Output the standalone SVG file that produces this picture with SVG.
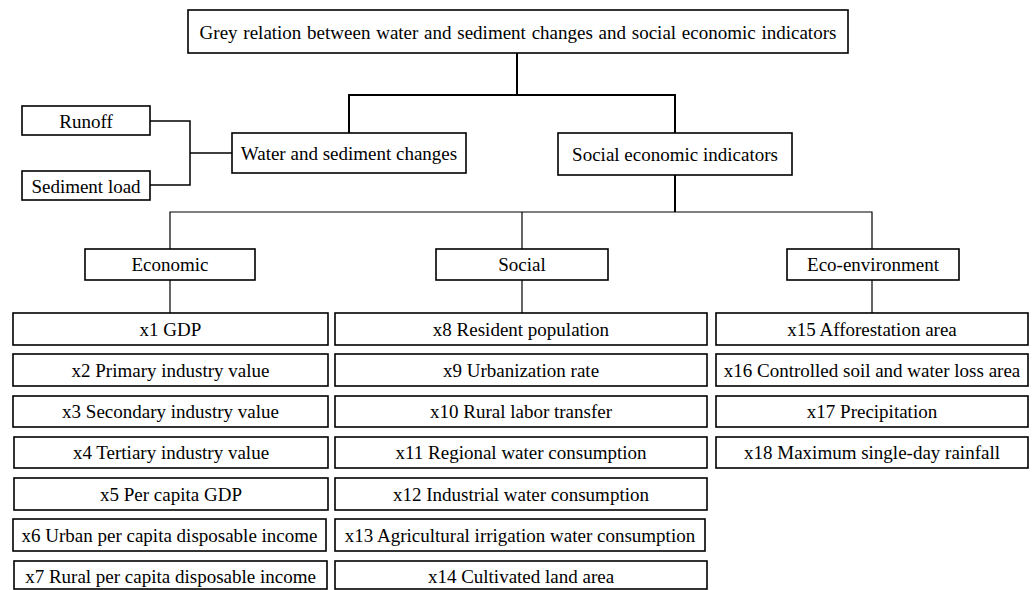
<svg xmlns="http://www.w3.org/2000/svg" width="1033" height="590" viewBox="0 0 1033 590" font-family="'Liberation Serif', Tinos, 'Times New Roman', 'DejaVu Serif', serif">
<style>
rect{fill:#fff;stroke:#000;stroke-width:1.6}
text{font-family:'Liberation Serif',Tinos,'Times New Roman','DejaVu Serif',serif;font-size:19px;fill:#000;text-anchor:middle;dominant-baseline:central}
.c{fill:none;stroke:#000;stroke-width:1.5}
.t{fill:none;stroke:#000;stroke-width:2}
.n{fill:none;stroke:#000;stroke-width:1.2}
</style>
<rect width="1033" height="590" style="fill:#fff;stroke:none"/>
<g id="connectors">
<path class="t" d="M517 53V95M349 133V95H675V133"/>
<path class="c" d="M150 121H190V185H150M190 153H232"/>
<path class="t" d="M675 175V212"/>
<path class="n" d="M170 249V212H872V249M522 212V249"/>
<path class="n" d="M170 279V313M522 279V313M872 279V313"/>
</g>
<g id="title"><rect x="188" y="10" width="660" height="43"/><text x="518" y="32" word-spacing="1">Grey relation between water and sediment changes and social economic indicators</text></g>
<g id="runoff"><rect x="22" y="106" width="128" height="29"/><text x="86" y="121">Runoff</text></g>
<g id="sediment"><rect x="22" y="171" width="128" height="29"/><text x="86" y="186">Sediment load</text></g>
<g id="water"><rect x="232" y="133" width="234" height="40"/><text x="349" y="153">Water and sediment changes</text></g>
<g id="socioeco"><rect x="558" y="133" width="234" height="42"/><text x="675" y="154">Social economic indicators</text></g>
<g id="economic"><rect x="85" y="249" width="170" height="31"/><text x="170" y="264.5">Economic</text></g>
<g id="social"><rect x="436" y="249" width="172" height="31"/><text x="522" y="264.5">Social</text></g>
<g id="ecoenv"><rect x="787" y="249" width="172" height="31"/><text x="873" y="264.5">Eco-environment</text></g>
<g id="x1"><rect x="13" y="313" width="315" height="32"/><text x="170.5" y="329">x1 GDP</text></g>
<g id="x2"><rect x="13" y="354" width="315" height="32"/><text x="170.5" y="370">x2 Primary industry value</text></g>
<g id="x3"><rect x="13" y="396" width="315" height="31"/><text x="170.5" y="411.5">x3 Secondary industry value</text></g>
<g id="x4"><rect x="14" y="437" width="314" height="31"/><text x="171" y="452.5">x4 Tertiary industry value</text></g>
<g id="x5"><rect x="14" y="478" width="314" height="32"/><text x="171" y="494">x5 Per capita GDP</text></g>
<g id="x6"><rect x="13" y="519" width="313" height="32"/><text x="169.5" y="535">x6 Urban per capita disposable income</text></g>
<g id="x7"><rect x="14" y="561" width="313" height="28"/><text x="170.5" y="576">x7 Rural per capita disposable income</text></g>
<g id="x8"><rect x="335" y="313" width="372" height="32"/><text x="521" y="329">x8 Resident population</text></g>
<g id="x9"><rect x="335" y="354" width="372" height="32"/><text x="521" y="370">x9 Urbanization rate</text></g>
<g id="x10"><rect x="335" y="396" width="372" height="31"/><text x="521" y="411.5">x10 Rural labor transfer</text></g>
<g id="x11"><rect x="335" y="437" width="372" height="31"/><text x="521" y="452.5">x11 Regional water consumption</text></g>
<g id="x12"><rect x="335" y="478" width="372" height="32"/><text x="521" y="494">x12 Industrial water consumption</text></g>
<g id="x13"><rect x="335" y="519" width="370" height="32"/><text x="520" y="535">x13 Agricultural irrigation water consumption</text></g>
<g id="x14"><rect x="335" y="561" width="372" height="28"/><text x="521" y="576">x14 Cultivated land area</text></g>
<g id="x15"><rect x="716" y="313" width="312" height="32"/><text x="872" y="329">x15 Afforestation area</text></g>
<g id="x16"><rect x="716" y="354" width="312" height="32"/><text x="872" y="370">x16 Controlled soil and water loss area</text></g>
<g id="x17"><rect x="716" y="396" width="312" height="31"/><text x="872" y="411.5">x17 Precipitation</text></g>
<g id="x18"><rect x="716" y="437" width="312" height="31"/><text x="872" y="452.5">x18 Maximum single-day rainfall</text></g>
</svg>
